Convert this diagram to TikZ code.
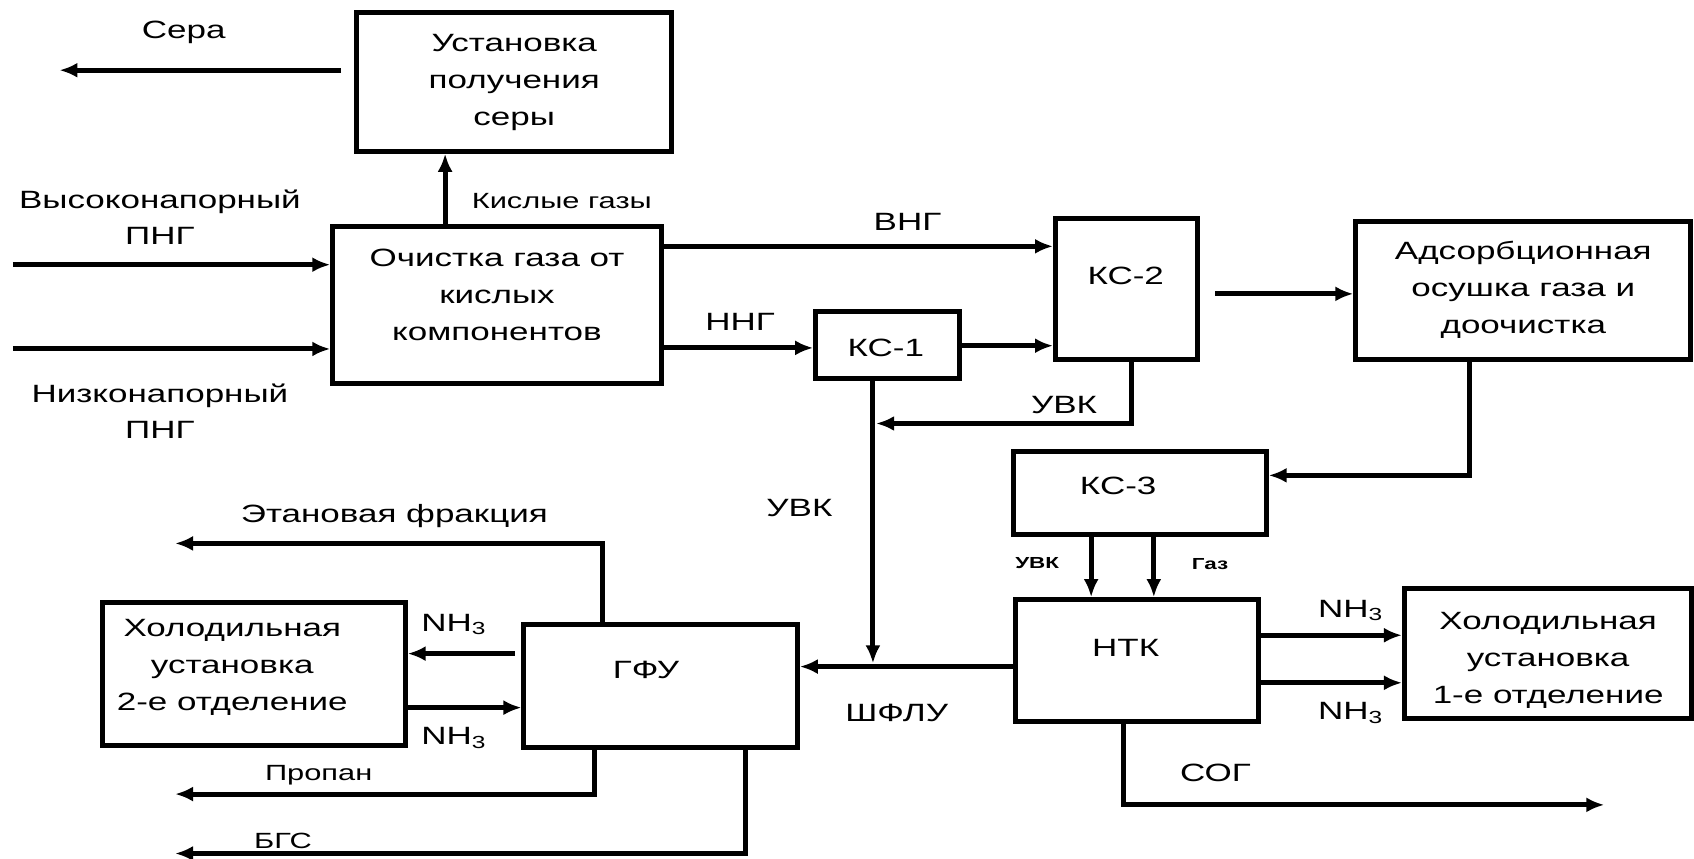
\documentclass[tikz,border=0pt]{standalone}
\usepackage{fontspec}
\setmainfont{Liberation Sans}[FakeStretch=1.4]
\usetikzlibrary{arrows.meta,fit,calc}
\begin{document}
\begin{tikzpicture}[x=1.0804pt,y=-1.0804pt,
  box/.style={draw, line width=5pt, inner sep=0pt},
  ln/.style={line width=5pt},
  arr/.style={ln, -{Latex[length=18pt,width=15pt]}},
  txt/.style={font=\fontsize{25}{37}\selectfont, align=center, inner sep=0pt},
  lbl/.style={font=\fontsize{25}{36}\selectfont, align=center, inner sep=0pt},
  sml/.style={font=\fontsize{22}{26}\selectfont, inner sep=0pt},
  tiny/.style={font=\fontsize{16}{18}\selectfont\bfseries, inner sep=0pt}]
\useasboundingbox (0,0) rectangle (1568,795);
\fill[white] (0,0) rectangle (1568,795);

% boxes
\node[box, fit={(330,12) (622,140)}] (ust) {};
\node[box, fit={(308,210) (612,355)}] (och) {};
\node[box, fit={(755,288) (888,350)}] (ks1) {};
\node[box, fit={(977,202) (1108,333)}] (ks2) {};
\node[box, fit={(1255,205) (1565,333)}] (ads) {};
\node[box, fit={(938,418) (1172,495)}] (ks3) {};
\node[box, fit={(940,555) (1165,668)}] (ntk) {};
\node[box, fit={(1300,545) (1566,665)}] (hol1) {};
\node[box, fit={(485,578) (738,692)}] (gfu) {};
\node[box, fit={(95,558) (375,690)}] (hol2) {};

% box texts
\node[txt] (ust-t) at (476,76) {Установка\\получения\\серы};
\node[txt] (och-t) at (460,273) {Очистка газа от\\кислых\\компонентов};
\node[txt] (ks1-t) at (820,322) {КС-1};
\node[txt] (ks2-t) at (1042,255) {КС-2};
\node[txt] (ads-t) at (1410,268) {Адсорбционная\\осушка газа и\\доочистка};
\node[txt] (ks3-t) at (1035,450) {КС-3};
\node[txt] (ntk-t) at (1042,600) {НТК};
\node[txt] (hol1-t) at (1433,611) {Холодильная\\установка\\1-е отделение};
\node[txt] (gfu-t) at (598,620) {ГФУ};
\node[txt] (hol2-t) at (215,618) {Холодильная\\установка\\2-е отделение};

% labels
\node[lbl] (l-sera) at (170,30) {Сера};
\node[lbl] (l-vys) at (148,201) {Высоконапорный\\ПНГ};
\node[lbl] (l-niz) at (148,381) {Низконапорный\\ПНГ};
\node[sml] (l-kisl) at (520,186) {Кислые газы};
\node[lbl] (l-vng) at (840,205) {ВНГ};
\node[lbl] (l-nng) at (685,298) {ННГ};
\node[lbl] (l-uvk1) at (985,375) {УВК};
\node[lbl] (l-uvk2) at (740,470) {УВК};
\node[lbl] (l-etan) at (365,478) {Этановая фракция};
\node[lbl] (l-nh1) at (420,578) {NH\textsubscript{3}};
\node[lbl] (l-nh2) at (420,683) {NH\textsubscript{3}};
\node[lbl] (l-shf) at (830,660) {ШФЛУ};
\node[lbl] (l-nh3) at (1250,565) {NH\textsubscript{3}};
\node[lbl] (l-nh4) at (1250,660) {NH\textsubscript{3}};
\node[lbl] (l-sog) at (1125,715) {СОГ};
\node[sml] (l-prop) at (295,718) {Пропан};
\node[sml] (l-bgs) at (262,778) {БГС};
\node[tiny] (l-uvk3) at (960,521) {УВК};
\node[tiny] (l-gaz) at (1120,522) {Газ};

% coordinates
\coordinate (sera) at (55,65);
\coordinate (kx) at (412,0);
\coordinate (hp) at (12,245);
\coordinate (lp) at (12,323);
\coordinate (vy) at (0,228);
\coordinate (ny) at (0,322);
\coordinate (ky) at (0,320);
\coordinate (a1) at (1125,272);
\coordinate (x1) at (1360,0);
\coordinate (k3y) at (0,440);
\coordinate (x2) at (1047,0);
\coordinate (uvkend) at (811,392);
\coordinate (x3) at (808,0);
\coordinate (shfend) at (808,614);
\coordinate (shy) at (0,617);
\coordinate (u1) at (1010,0);
\coordinate (u2) at (1068,0);
\coordinate (h1y) at (0,588);
\coordinate (h2y) at (0,632);
\coordinate (x4) at (1040,0);
\coordinate (sog) at (1485,745);
\coordinate (ex) at (558,0);
\coordinate (etan) at (162,503);
\coordinate (g1y) at (0,605);
\coordinate (g2y) at (0,655);
\coordinate (px) at (550,0);
\coordinate (prop) at (162,735);
\coordinate (bx) at (690,0);
\coordinate (bgs) at (162,790);

% connectors
\draw[arr] ($(ust.west |- sera)+(-12,0)$) -- (sera);
\draw[arr] (och.north -| kx) -- (ust.south -| kx);
\draw[arr] (hp) -- (hp -| och.west);
\draw[arr] (lp) -- (lp -| och.west);
\draw[arr] (och.east |- vy) -- (ks2.west |- vy);
\draw[arr] (och.east |- ny) -- (ks1.west |- ny);
\draw[arr] (ks1.east |- ky) -- (ks2.west |- ky);
\draw[arr] (a1) -- (a1 -| ads.west);
\draw[arr] (ads.south -| x1) |- (ks3.east |- k3y);
\draw[arr] (ks2.south -| x2) |- (uvkend);
\draw[arr] (ks1.south -| x3) -- (shfend);
\draw[arr] (ntk.west |- shy) -- (gfu.east |- shy);
\draw[arr] (ks3.south -| u1) -- (ntk.north -| u1);
\draw[arr] (ks3.south -| u2) -- (ntk.north -| u2);
\draw[arr] (ntk.east |- h1y) -- (hol1.west |- h1y);
\draw[arr] (ntk.east |- h2y) -- (hol1.west |- h2y);
\draw[arr] (ntk.south -| x4) |- (sog);
\draw[arr] (gfu.north -| ex) |- (etan);
\draw[arr] ($(gfu.west |- g1y)+(-6,0)$) -- (hol2.east |- g1y);
\draw[arr] (hol2.east |- g2y) -- (gfu.west |- g2y);
\draw[arr] (gfu.south -| px) |- (prop);
\draw[arr] (gfu.south -| bx) |- (bgs);
\end{tikzpicture}
\end{document}
